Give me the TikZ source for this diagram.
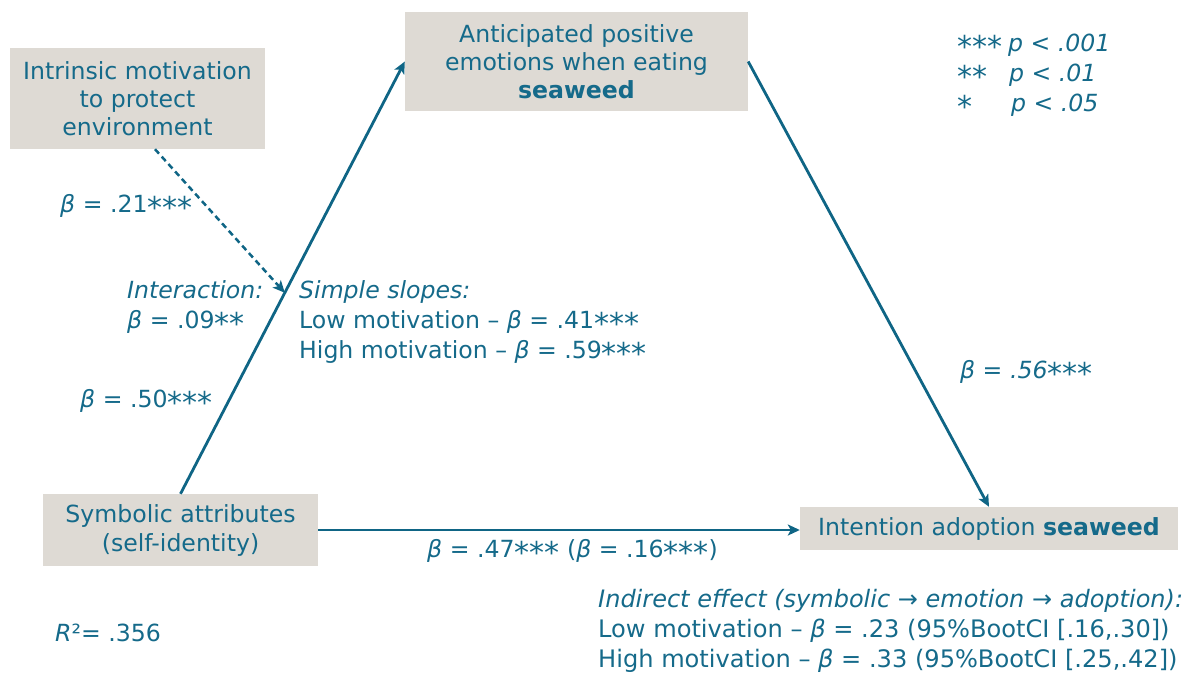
\documentclass[tikz,border=0pt]{standalone}
\usepackage{fontspec}
\setmainfont{DejaVu Sans}
\usetikzlibrary{arrows.meta,calc}
\definecolor{teal1}{HTML}{156A8A}
\definecolor{arr}{HTML}{0F6585}
\definecolor{boxfill}{HTML}{DEDAD4}
\newcommand\fsz{\fontsize{23.6}{28}\selectfont}
\newcommand\stars[1]{\raisebox{-6pt}{\fontsize{30}{28}\selectfont\upshape #1}}
\begin{document}
\begin{tikzpicture}[x=1pt,y=-1pt,
  box/.style={fill=boxfill, text=teal1, align=center, inner sep=0pt, font=\fsz},
  lab/.style={text=teal1, anchor=base west, inner sep=0pt, font=\fsz},
  conn/.style={draw=arr, line width=2.8pt, -{Stealth[length=12pt,width=11pt,inset=3pt]}},
  dconn/.style={draw=arr, line width=2.5pt, dash pattern=on 6pt off 4pt, -{Stealth[length=12pt,width=11pt,inset=3pt]}}]
\useasboundingbox (0,0) rectangle (1186,672);
% boxes
\node[box, minimum width=255pt, minimum height=101pt] (intr) at (137.5,98.5) {Intrinsic motivation\\to protect\\environment};
\node[box, minimum width=343pt, minimum height=99pt] (ant) at (576.5,61.5) {Anticipated positive\\emotions when eating\\\textbf{seaweed}};
\node[box, minimum width=275pt, minimum height=72pt, font=\fontsize{23.6}{29}\selectfont] (sym) at (180.5,530) {Symbolic attributes\\(self-identity)};
\node[box, minimum width=378pt, minimum height=43pt] (int) at (989,528.5) {Intention adoption \textbf{seaweed}};
% connectors
\draw[conn] (sym.north) -- (ant.west);
\draw[conn] (ant.east) -- (int.north);
\draw[conn] (sym.east) -- (sym.east -| int.west);
\coordinate (ds) at ($(intr.south)+(17.5,0)$);
\coordinate (dm) at ($(sym.north)!0.465!(ant.west)$);
\draw[dconn] (ds) -- (dm);
% labels
\node[lab] (l21) at (60,212) {\textit{β} = .21\stars{***}};
\node[lab] (linter) at (127,298) {\textit{Interaction:}};
\node[lab] (l09) at (127,328) {\textit{β} = .09\stars{**}};
\node[lab] (lss) at (299,298) {\textit{Simple slopes:}};
\node[lab] (l41) at (299,328) {Low motivation – \textit{β} = .41\stars{***}};
\node[lab] (l59) at (299,358) {High motivation – \textit{β} = .59\stars{***}};
\node[lab] (l50) at (80,407) {\textit{β} = .50\stars{***}};
\node[lab] (l56) at (960,378) {\textit{β = .56}\stars{***}};
\node[lab] (l47) at (427,557) {\textit{β} = .47\stars{***} (\textit{β} = .16\stars{***})};
\node[lab] (lr2) at (55,641) {\textit{R}²= .356};
\node[lab, font=\fontsize{24}{28}\selectfont] (lind) at (598,607) {\textit{Indirect effect (symbolic → emotion → adoption):}};
\node[lab, font=\fontsize{24.1}{28}\selectfont] (llow) at (598,637) {Low motivation – \textit{β} = .23 (95\%BootCI [.16,.30])};
\node[lab, font=\fontsize{24.1}{28}\selectfont] (lhigh) at (598,667) {High motivation – \textit{β} = .33 (95\%BootCI [.25,.42])};
% legend
\node[lab] (s3) at (957,51) {\stars{***}};
\node[lab] (p3) at (1008,51) {\textit{p < .001}};
\node[lab] (s2) at (957,81) {\stars{**}};
\node[lab] (p2) at (1009,81) {\textit{p < .01}};
\node[lab] (s1) at (957,111) {\stars{*}};
\node[lab] (p1) at (1011,111) {\textit{p < .05}};
\end{tikzpicture}
\end{document}
